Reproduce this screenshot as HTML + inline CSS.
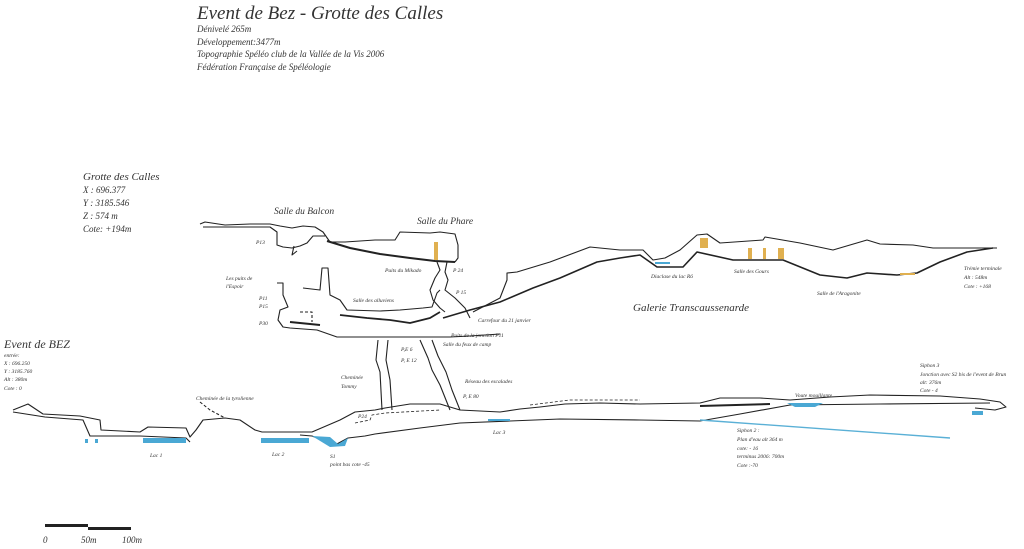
<!DOCTYPE html>
<html><head><meta charset="utf-8"><style>
html,body{margin:0;padding:0;background:#fff;}
svg{display:block;}
text{font-family:"Liberation Serif",serif;font-style:italic;fill:#333;}
</style></head><body>
<svg width="1024" height="549" viewBox="0 0 1024 549" xmlns="http://www.w3.org/2000/svg">
<rect width="1024" height="549" fill="#fff"/>
<!-- titles -->
<text x="197" y="19" font-size="19" fill="#222">Event de Bez -  Grotte des Calles</text>
<text x="197" y="32" font-size="9">Dénivelé 265m</text>
<text x="197" y="45" font-size="9">Développement:3477m</text>
<text x="197" y="57" font-size="9">Topographie  Spéléo club de la Vallée de la Vis 2006</text>
<text x="197" y="70" font-size="9">Fédération Française de Spéléologie</text>

<text x="83" y="180" font-size="11">Grotte des Calles</text>
<text x="83" y="193" font-size="9">X : 696.377</text>
<text x="83" y="206" font-size="9">Y : 3185.546</text>
<text x="83" y="219" font-size="9">Z :  574 m</text>
<text x="83" y="232" font-size="9">Cote: +194m</text>

<text x="4" y="348" font-size="12">Event de BEZ</text>
<text x="4" y="357" font-size="5.5">entrée:</text>
<text x="4" y="365" font-size="5.5">X : 696.250</text>
<text x="4" y="373" font-size="5.5">Y : 3185.760</text>
<text x="4" y="381" font-size="5.5">Alt : 380m</text>
<text x="4" y="390" font-size="5.5">Cote : 0</text>

<!-- labels upper -->
<text x="274" y="214" font-size="9.5">Salle du Balcon</text>
<text x="417" y="224" font-size="9.5">Salle du Phare</text>
<text x="256" y="244" font-size="5.5">P13</text>
<text x="226" y="280" font-size="5.5">Les puits de</text>
<text x="226" y="288" font-size="5.5">l'Espoir</text>
<text x="259" y="300" font-size="5.5">P11</text>
<text x="259" y="308" font-size="5.5">P15</text>
<text x="259" y="325" font-size="5.5">P30</text>
<text x="385" y="272" font-size="5.5">Puits du Mikado</text>
<text x="453" y="272" font-size="5.5">P 24</text>
<text x="456" y="294" font-size="5.5">P 15</text>
<text x="353" y="302" font-size="5.5">Salle des alluviens</text>
<text x="478" y="322" font-size="5.5">Carrefour du 21 janvier</text>
<text x="451" y="337" font-size="5.5">Puits de la jonction P11</text>
<text x="443" y="346" font-size="5.5">Salle du feux de camp</text>
<text x="401" y="351" font-size="5.5">P,E 6</text>
<text x="401" y="362" font-size="5.5">P, E 12</text>
<text x="341" y="379" font-size="5.5">Cheminée</text>
<text x="341" y="388" font-size="5.5">Tommy</text>
<text x="465" y="383" font-size="5.5">Réseau des escalades</text>
<text x="463" y="398" font-size="5.5">P, E 80</text>
<text x="196" y="400" font-size="5.5">Cheminée de la tyrolienne</text>
<text x="358" y="418" font-size="5.5">P24</text>
<text x="150" y="457" font-size="5.5">Lac 1</text>
<text x="272" y="456" font-size="5.5">Lac 2</text>
<text x="330" y="458" font-size="5.5">S1</text>
<text x="330" y="466" font-size="5.5">point bas  cote -45</text>
<text x="493" y="434" font-size="5.5">Lac 3</text>
<text x="651" y="278" font-size="5.5">Diaclase du lac R6</text>
<text x="734" y="273" font-size="5.5">Salle des Gours</text>
<text x="817" y="295" font-size="5.5">Salle de l'Aragonite</text>
<text x="633" y="311" font-size="11">Galerie Transcaussenarde</text>
<text x="964" y="270" font-size="5.5">Trémie terminale</text>
<text x="964" y="279" font-size="5.5">Alt : 548m</text>
<text x="964" y="288" font-size="5.5">Cote :  +168</text>
<text x="920" y="367" font-size="5.5">Siphon 3</text>
<text x="920" y="376" font-size="5.5">Jonction avec S2 bis de l'event de Brun</text>
<text x="920" y="384" font-size="5.5">alt: 376m</text>
<text x="920" y="392" font-size="5.5">Cote - 4</text>
<text x="795" y="397" font-size="5.5">Voute mouillante</text>
<text x="737" y="432" font-size="5.5">Siphon 2 :</text>
<text x="737" y="441" font-size="5.5">Plan d'eau alt 364 m</text>
<text x="737" y="450" font-size="5.5">cote: - 16</text>
<text x="737" y="458" font-size="5.5">terminus 2006: 700m</text>
<text x="737" y="467" font-size="5.5">Cote :-70</text>

<!-- scale -->
<rect x="45" y="524" width="43" height="3" fill="#222"/>
<rect x="88" y="527" width="43" height="3" fill="#222"/>
<text x="43" y="543" font-size="9">0</text>
<text x="81" y="543" font-size="9">50m</text>
<text x="122" y="543" font-size="9">100m</text>

<g fill="none" stroke="#222" stroke-width="1.1" stroke-linejoin="round">
<!-- Balcon / Phare -->
<polyline points="200,224 205,222 225,225 250,224 270,224 280,226 292,228 303,226 315,227 323,232 330,242 345,242 375,240 395,240 400,232 430,233 440,232 455,234 458,245 458,258 455,262"/>
<polyline points="203,227 230,227 270,227 277,232 277,245 283,247 292,248 300,246 307,243 313,236 325,236"/>
<polyline points="294,246 292,255 297,251"/>
<polyline points="327,241 350,248 380,254 410,258 435,261 455,262" stroke-width="2"/>
<!-- shaft down to gallery -->
<polyline points="437,262 440,270 435,278 430,290 433,300 440,308 445,312"/>
<polyline points="447,262 445,272 448,280 445,290 455,298 465,308 470,318"/>
<!-- Galerie Transcaussenarde -->
<polyline points="473,312 500,298 507,280 507,273 517,272 550,262 590,247 620,250 643,250 653,260 665,258 680,250 697,235 707,234 720,243 763,240 765,237 800,243 833,250 850,245 867,240 880,244 913,245 933,248 960,248 997,248"/>
<polyline points="443,318 470,310 500,302 533,288 560,278 597,262 620,258 640,255 657,267 683,267 697,252 733,260 783,260 820,275 847,278 867,273 897,275 917,273 940,262 967,252 993,248" stroke-width="1.6"/>
<!-- middle gallery alluviens -->
<polyline points="303,288 320,290 322,268 328,268 330,295 340,300 347,310 380,311 400,310 423,308 432,307 437,293 440,290"/>
<polyline points="340,315 367,318 390,320 410,323 430,318 440,312" stroke-width="1.8"/>
<polyline points="277,283 283,283 283,295 288,307 280,310 278,320 283,327 290,328 317,330 337,337 383,337 417,337 450,337 470,336 500,334"/>
<polyline points="290,322 320,325" stroke-width="2"/>
<polyline points="300,312 312,312 312,322" stroke-dasharray="3,2"/>
<!-- shafts -->
<polyline points="378,340 376,360 380,372 382,410"/>
<polyline points="388,340 386,360 390,380 392,410"/>
<polyline points="420,340 428,358 432,370 440,385 450,410"/>
<polyline points="432,340 438,356 446,372 452,390 460,410"/>
<!-- lower gallery ceiling -->
<polyline points="13,410 28,404 43,414 80,416 100,420 101,430 140,432 148,427 186,428 190,437 196,430 203,420 225,418 240,420 255,430 262,432 305,432 312,432 340,420 355,412 375,410 385,408 410,404 440,404 460,410 500,412 520,409 540,407 565,404 600,403 640,404 700,403 720,398 760,398 790,400 830,397 870,395 940,396 980,399 1000,402 1006,407 995,410 975,408"/>
<polyline points="13,412 45,417 83,420 90,436 140,436 186,438 190,442"/>
<polyline points="300,435 312,436 335,445 348,438 365,436 375,434 420,428 460,423 510,421 560,419 640,420 700,421 740,414 790,405 880,404 990,403"/>
<polyline points="355,423 370,420 372,415 385,413 440,410" stroke-dasharray="3,2" stroke-width="0.8"/>
<polyline points="200,402 210,410 225,418" stroke-dasharray="3,2"/>
<polyline points="530,405 570,400 640,400" stroke-dasharray="3,2" stroke-width="0.8"/>
<polyline points="700,406 770,404" stroke-width="2"/>
</g>
<!-- water -->
<g fill="#4aa8d4">
<rect x="143" y="438" width="43" height="5"/>
<rect x="261" y="438" width="48" height="5"/>
<polygon points="312,436 330,437 338,444 348,438 345,446 330,447"/>
<rect x="85" y="439" width="3" height="4"/>
<rect x="95" y="439" width="3" height="4"/>
<rect x="488" y="419" width="22" height="2"/>
<polygon points="787,403 823,403 815,407 795,407"/>
<rect x="972" y="411" width="11" height="4"/>
<rect x="655" y="262" width="15" height="2"/>
</g>
<line x1="700" y1="420" x2="950" y2="438" stroke="#5ab0d6" stroke-width="1.4"/>
<!-- ochre concretions -->
<g fill="#e0b050">
<rect x="434" y="242" width="4" height="18"/>
<rect x="748" y="248" width="4" height="11"/>
<rect x="763" y="248" width="3" height="11"/>
<rect x="778" y="248" width="6" height="11"/>
<rect x="700" y="238" width="8" height="10"/>
<rect x="900" y="273" width="15" height="2"/>
</g>
</svg>
</body></html>
